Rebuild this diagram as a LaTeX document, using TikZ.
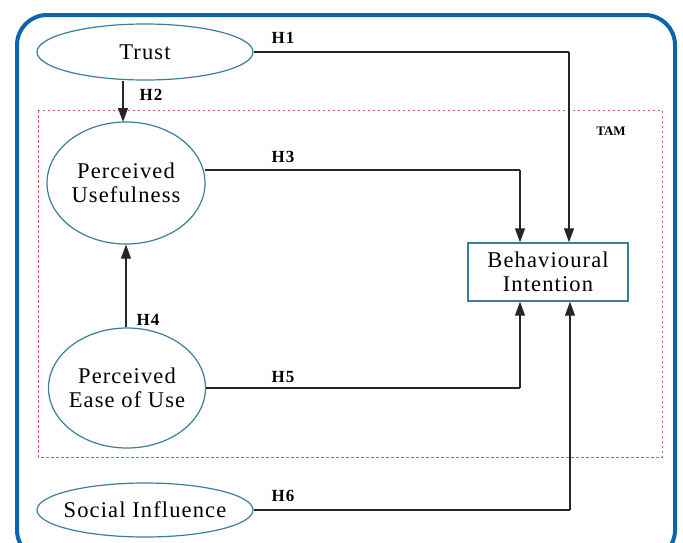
\documentclass[tikz,border=0pt]{standalone}
\usepackage{fontspec}
\setmainfont{Liberation Serif}
\usetikzlibrary{shapes.geometric,arrows.meta}
\definecolor{frameblue}{RGB}{10,100,175}
\definecolor{nodeblue}{RGB}{60,125,155}
\definecolor{tamred}{RGB}{215,90,100}
\tikzset{
  x=1pt,y=-1pt,
  txt/.style={font=\fontsize{22.5}{23.5}\selectfont\addfontfeature{LetterSpace=5}},
  ell/.style={ellipse,draw=nodeblue,line width=1.2pt,inner xsep=-14pt,inner ysep=-4pt,align=center,txt},
  conn/.style={line width=1.1pt,draw=black!85},
  arr/.style={conn,-{Triangle[width=10pt,length=14pt]}},
  hlab/.style={font=\bfseries\fontsize{17}{19}\selectfont\addfontfeature{LetterSpace=6}},
}
\begin{document}
\begin{tikzpicture}
\useasboundingbox (0,0) rectangle (683,542);
\begin{scope}
\clip (0,0) rectangle (683,542);
\draw[frameblue,line width=4pt,rounded corners=30pt] (17,15) rectangle (675,560);
\end{scope}
\draw[tamred,line width=0.9pt,dash pattern=on 2.5pt off 2.5pt] (38,110) rectangle (662,457);
\node[font=\bfseries\fontsize{13}{15}\selectfont] (tam) at (611,131) {TAM};

\node[ell,minimum width=216pt,minimum height=56pt] (trust) at (145,52) {Trust};
\node[ell,minimum width=158pt,minimum height=122pt] (pu) at (126,183) {Perceived\\Usefulness};
\node[ell,minimum width=157pt,minimum height=120pt] (peou) at (127,388) {Perceived\\Ease of Use};
\node[ell,minimum width=216pt,minimum height=54pt] (si) at (145,510) {Social Influence};
\node[draw=nodeblue,line width=1.4pt,minimum width=160pt,minimum height=58pt,align=center,txt] (bi) at (548,272) {Behavioural\\Intention};

\coordinate (c1) at (569,52);
\coordinate (c3) at (520,170);
\coordinate (c5) at (520,388);
\coordinate (c6) at (570,510);

\draw[conn] (trust.east) -- (c1);
\draw[arr] (c1) -- (c1 |- bi.north);
\draw[arr] (trust.south -| 123,0) -- (123,122);
\draw[conn] (205,170) -- (c3);
\draw[arr] (c3) -- (c3 |- bi.north);
\draw[arr] (peou.north -| 126,0) -- (pu.south);
\draw[conn] (peou.east) -- (c5);
\draw[arr] (c5) -- (c5 |- bi.south);
\draw[conn] (si.east) -- (c6);
\draw[arr] (c6) -- (c6 |- bi.south);

\node[hlab] (h1) at (283,38) {H1};
\node[hlab] (h2) at (151,95) {H2};
\node[hlab] (h3) at (283,157) {H3};
\node[hlab] (h4) at (148,320) {H4};
\node[hlab] (h5) at (283,377) {H5};
\node[hlab] (h6) at (283,496) {H6};
\end{tikzpicture}
\end{document}
